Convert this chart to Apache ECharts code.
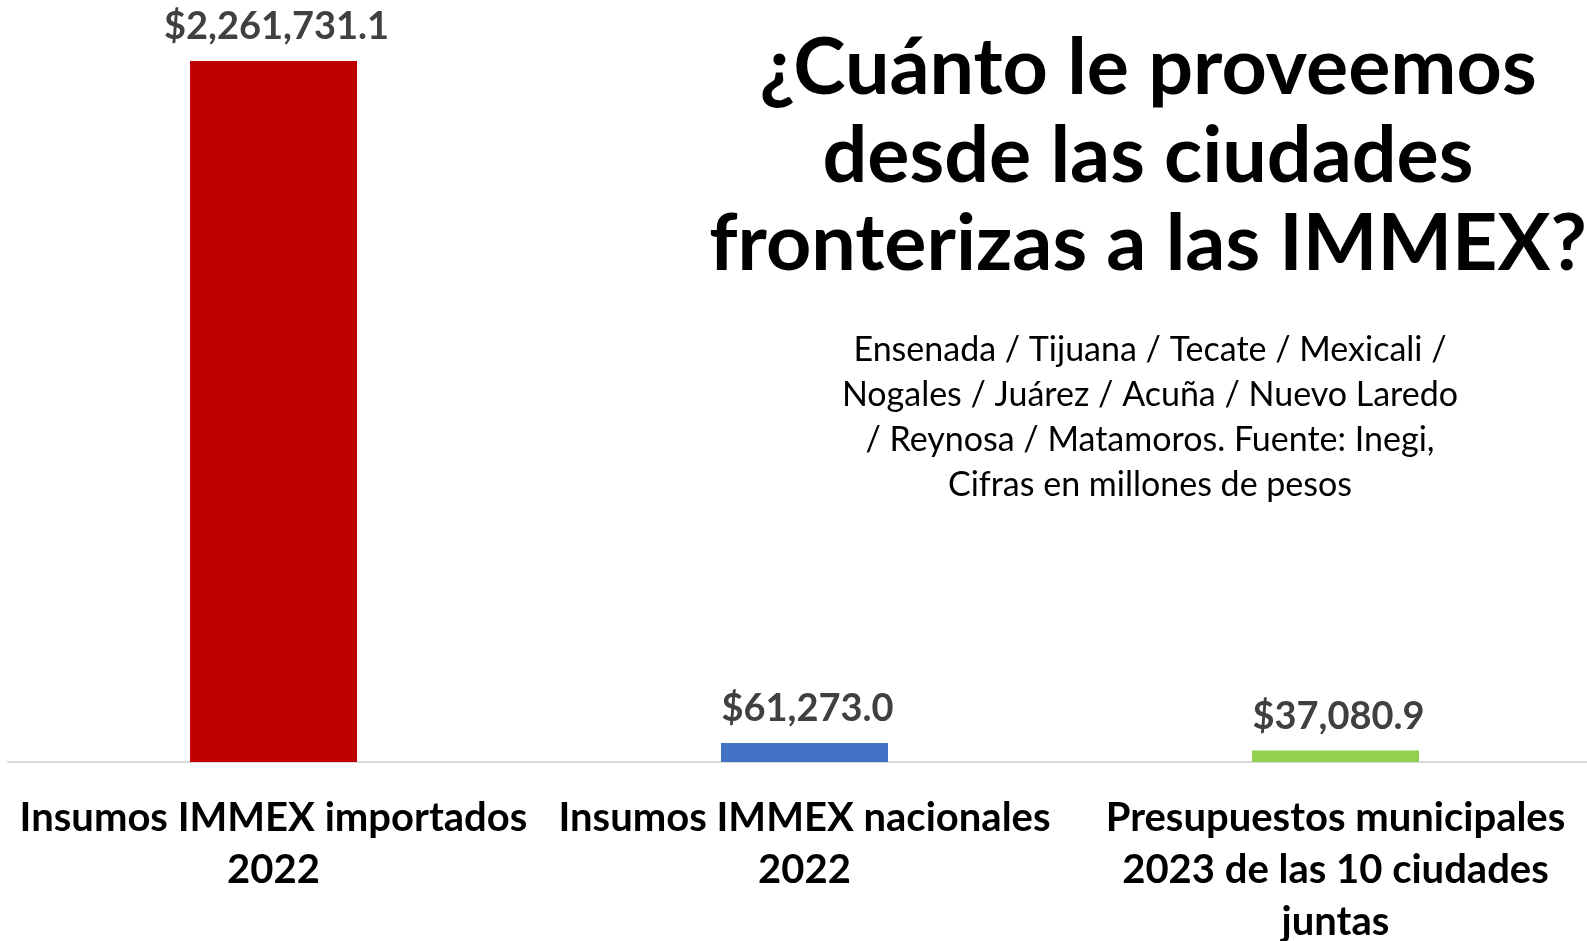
<!DOCTYPE html>
<html>
<head>
<meta charset="utf-8">
<style>
  html, body { margin: 0; padding: 0; background: #ffffff; overflow: hidden; }
  #chart { width: 1587px; height: 941px; }
</style>
<script src="https://cdn.jsdelivr.net/npm/echarts@6/dist/echarts.min.js"></script>
</head>
<body>
<div id="chart"></div>
<script>
const categories = [
  "Insumos IMMEX importados\n2022",
  "Insumos IMMEX nacionales\n2022",
  "Presupuestos municipales\n2023 de las 10 ciudades\njuntas"
];
const values = [2261731.1, 61273.0, 37080.9];
const barColors = ["#c00000", "#4472c4", "#92d050"];
const titleText = "¿Cuánto le proveemos\ndesde las ciudades\nfronterizas a las IMMEX?";
const subtitleText = "Ensenada / Tijuana / Tecate / Mexicali /\nNogales / Juárez / Acuña / Nuevo Laredo\n/ Reynosa / Matamoros. Fuente: Inegi,\nCifras en millones de pesos";

const FONT = "Lato";

function fmtMoney(v) {
  return "$" + v.toLocaleString("en-US", { minimumFractionDigits: 1, maximumFractionDigits: 1 });
}

const chart = echarts.init(document.getElementById("chart"), null, { renderer: "canvas" });
chart.setOption({
  backgroundColor: "#ffffff",
  animation: false,
  grid: { left: 8, right: -14, top: 61, bottom: 179, containLabel: false, outerBoundsMode: "none" },
  xAxis: {
    type: "category",
    data: categories,
    axisLine: { show: true, lineStyle: { color: "#d9d9d9", width: 2 } },
    axisTick: { show: false },
    axisLabel: {
      interval: 0,
      margin: 30,
      color: "#000000",
      fontFamily: FONT,
      fontWeight: "bold",
      fontSize: 40,
      lineHeight: 52
    }
  },
  yAxis: {
    type: "value",
    min: 0,
    max: "dataMax",
    show: false,
    splitLine: { show: false }
  },
  series: [{
    type: "bar",
    barWidth: 167,
    data: values.map((v, i) => ({ value: v, itemStyle: { color: barColors[i] } })),
    label: {
      show: true,
      position: "top",
      distance: 15,
      offset: [3, 0],
      formatter: p => fmtMoney(p.value),
      color: "#404040",
      fontFamily: FONT,
      fontWeight: "bold",
      fontSize: 38,
      lineHeight: 38
    }
  }],
  graphic: [
    {
      type: "text",
      x: 1148,
      y: 25,
      style: {
        text: titleText,
        align: "center",
        verticalAlign: "top",
        fill: "#000000",
        fontFamily: FONT,
        fontWeight: "bold",
        fontSize: 79,
        lineHeight: 88
      }
    },
    {
      type: "text",
      x: 1150,
      y: 328,
      style: {
        text: subtitleText,
        align: "center",
        verticalAlign: "top",
        fill: "#000000",
        fontFamily: FONT,
        fontSize: 34,
        lineHeight: 45
      }
    }
  ]
});
</script>
</body>
</html>
